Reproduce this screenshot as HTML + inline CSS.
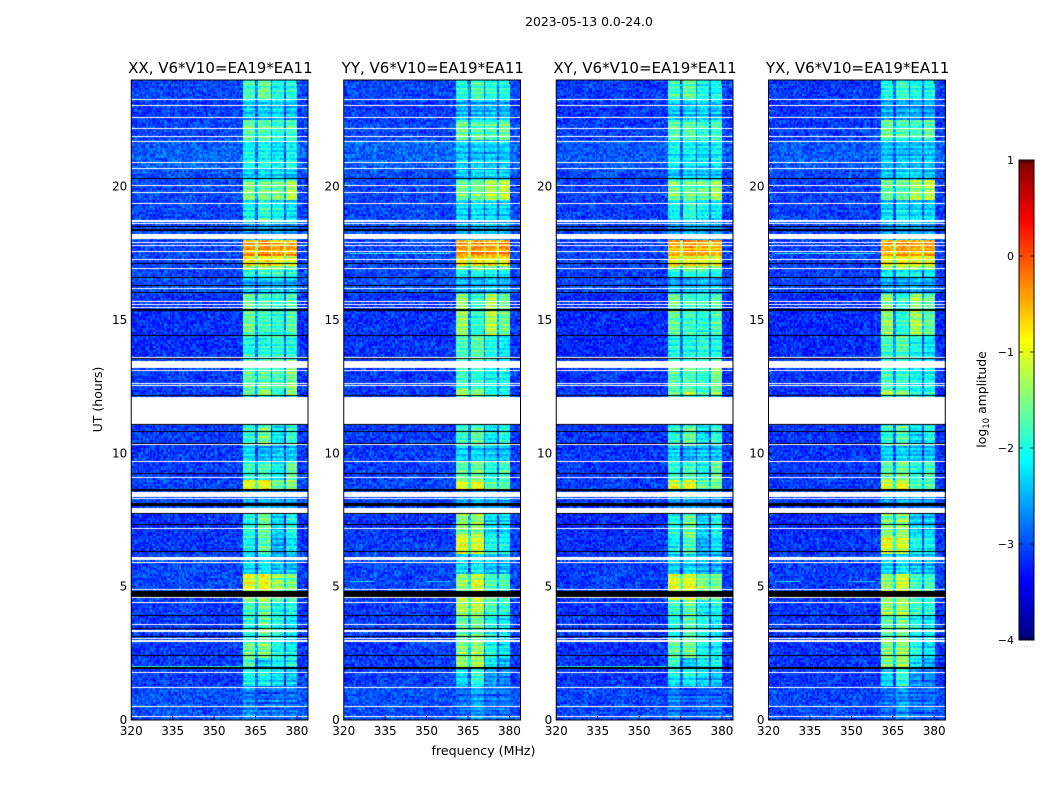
<!DOCTYPE html>
<html lang="en">
<head>
<meta charset="utf-8">
<title>2023-05-13 0.0-24.0</title>
<style>
html,body{margin:0;padding:0;background:#fff;}
#figure{position:relative;width:1050px;height:800px;overflow:hidden;background:#fff;}
canvas{position:absolute;display:block;}
#overlay{position:absolute;left:0;top:0;}
text{font-family:"DejaVu Sans","Liberation Sans",sans-serif;fill:#000;}
</style>
</head>
<body>
<div id="figure">
  <canvas id="heat0" width="177" height="640" style="left:131px;top:80px"></canvas>
  <canvas id="heat1" width="177" height="640" style="left:344px;top:80px"></canvas>
  <canvas id="heat2" width="177" height="640" style="left:556px;top:80px"></canvas>
  <canvas id="heat3" width="177" height="640" style="left:769px;top:80px"></canvas>
  <canvas id="cbar" width="15" height="480" style="left:1019px;top:160px"></canvas>
  <svg id="overlay" width="1050" height="800" viewBox="0 0 1050 800" xmlns="http://www.w3.org/2000/svg">
    <text x="589" y="26" text-anchor="middle" font-size="12.4">2023-05-13 0.0-24.0</text>
    <text x="220.4" y="73" text-anchor="middle" font-size="15">XX, V6*V10=EA19*EA11</text>
    <text x="432.8" y="73" text-anchor="middle" font-size="15">YY, V6*V10=EA19*EA11</text>
    <text x="645" y="73" text-anchor="middle" font-size="15">XY, V6*V10=EA19*EA11</text>
    <text x="857.6" y="73" text-anchor="middle" font-size="15">YX, V6*V10=EA19*EA11</text>
    <text x="483.5" y="755" text-anchor="middle" font-size="12.6">frequency (MHz)</text>
    <text transform="translate(102,399.5) rotate(-90)" text-anchor="middle" font-size="12.5">UT (hours)</text>
    <text transform="translate(986,399.5) rotate(-90)" text-anchor="middle" font-size="12.4">log<tspan font-size="8.6" dy="3">10</tspan><tspan dy="-3"> amplitude</tspan></text>
    <text x="1026.5" y="647" text-anchor="middle" font-size="6" fill="#999" style="fill:#999" letter-spacing="1.2">......</text>
  </svg>
</div>
<script>
// ---- Axis values ----
const xTickValues = [320, 335, 350, 365, 380];
const yTickValues = [0, 5, 10, 15, 20];
const colorbarTickValues = [-4, -3, -2, -1, 0, 1];
const freqMin = 320, freqMax = 384, hourMin = 0, hourMax = 24, logMin = -4, logMax = 1;

// ---- Spectral windows, MHz ----
const bandStarts = [360.5, 366.2, 371.0, 376.0];
const bandStops = [365.2, 370.4, 375.4, 380.2];
const gapDrop = 0.8;

// ---- Time segments: start hour, log10 amplitude per spectral window, background ----
const segmentStarts = [0, 1.3, 1.95, 2.35, 3, 3.9, 4.5, 4.75, 5.5, 6.25, 6.9, 7.7, 8.6, 9, 9.7, 10.3, 11, 12.13, 12.4, 13.5, 14.4, 16, 16.55, 16.85, 17.05, 17.4, 18, 18.7, 19.5, 20.25, 20.6, 21.75, 22.5, 23.25];
const levelsXX = [
 [-2.75,-2.95,-2.85,-2.85],[-2.1,-2.1,-2.3,-2.4],[-1.8,-2.3,-2.1,-2.0],[-1.6,-1.5,-2.0,-2.1],[-2.0,-1.7,-2.0,-2.2],
 [-1.8,-1.6,-2.1,-2.0],[-1.2,-1.1,-1.5,-1.6],[-1.0,-0.95,-1.4,-1.5],[-2.3,-2.2,-2.4,-2.5],[-2.1,-1.7,-2.5,-2.2],
 [-2.0,-1.6,-2.3,-2.0],[-2.6,-2.5,-2.6,-2.6],[-1.0,-0.9,-1.6,-1.5],[-1.9,-1.8,-2.1,-1.6],[-2.3,-2.5,-2.4,-2.4],
 [-1.9,-1.6,-2.2,-1.9],[-2.0,-2.0,-2.0,-2.0],[-1.6,-1.3,-1.9,-1.4],[-1.7,-1.7,-1.8,-1.5],[-2.0,-2.0,-1.9,-2.0],
 [-1.6,-1.8,-1.9,-1.7],[-2.5,-2.5,-2.4,-2.5],[-2.0,-1.9,-1.9,-2.0],[-1.4,-1.3,-1.4,-1.5],[-0.8,-0.8,-0.9,-1.0],
 [-0.45,-0.35,-0.45,-0.5],[-2.6,-2.5,-2.5,-2.6],[-2.1,-1.9,-2.1,-2.2],[-1.5,-1.6,-1.6,-1.3],[-2.4,-2.3,-2.3,-2.4],
 [-2.1,-2.1,-2.2,-2.1],[-1.7,-1.7,-1.9,-1.8],[-2.4,-2.4,-2.3,-2.4],[-1.8,-1.6,-2.0,-2.0]
];
const levelsYY = [
 [-2.85,-2.6,-2.85,-2.8],[-2.3,-1.9,-2.6,-2.7],[-1.4,-1.3,-2.2,-2.5],[-1.5,-1.4,-2.0,-2.2],[-1.7,-1.6,-2.1,-2.2],
 [-1.3,-1.25,-1.8,-1.9],[-1.2,-1.1,-1.6,-1.7],[-1.4,-1.1,-1.8,-1.8],[-2.3,-2.2,-2.4,-2.5],[-1.0,-1.1,-2.0,-2.1],
 [-1.5,-1.4,-2.3,-2.3],[-2.6,-2.5,-2.6,-2.6],[-1.1,-1.0,-1.7,-1.7],[-1.7,-1.6,-2.0,-1.8],[-2.3,-2.3,-2.4,-2.4],
 [-1.9,-1.7,-2.2,-2.0],[-2.0,-2.0,-2.0,-2.0],[-1.3,-1.4,-2.0,-2.0],[-1.8,-1.9,-2.1,-2.1],[-1.8,-1.7,-2.0,-2.2],
 [-1.4,-1.9,-1.3,-1.6],[-2.5,-2.5,-2.4,-2.5],[-2.1,-2.0,-2.0,-2.1],[-1.5,-1.4,-1.5,-1.5],[-0.8,-0.8,-0.9,-0.9],
 [-0.45,-0.35,-0.45,-0.35],[-2.6,-2.5,-2.5,-2.6],[-2.3,-2.2,-2.3,-2.3],[-1.6,-1.6,-1.3,-1.2],[-2.4,-2.3,-2.3,-2.4],
 [-2.4,-2.4,-2.4,-2.4],[-1.6,-1.7,-1.8,-1.6],[-2.5,-2.5,-2.5,-2.5],[-2.0,-1.8,-2.0,-2.0]
];
const backgroundLevels = [-3.0,-3.1,-3.1,-3.1,-3.1,-3.1,-3.1,-3.05,-3.05,-3.1,-3.15,-3.05,-3.05,-3.1,-3.1,-3.1,-3.1,-3.1,-3.1,-3.15,-3.15,-3.0,-3.05,-3.05,-3.05,-3.05,-3.0,-3.05,-3.05,-3.0,-2.92,-3.05,-3.1,-3.05];

// XX and XY, YY and YX read as near-identical in the picture.
const panelLevels = [levelsXX, levelsYY, levelsXX, levelsYY];
const panelGains = [0, 0, -0.04, -0.04];

// ---- Flagged (white) and zero (black) integrations, hours ----
const thinWhiteHours = [23.24,23.03,22.56,22.17,21.87,21.66,20.90,20.65,20.01,19.77,19.34,18.60,17.88,17.79,17.54,17.24,16.90,16.15,15.69,15.56,15.44,13.56,13.09,12.60,12.54,10.31,9.66,9.06,8.28,7.15,5.88,4.86,4.57,4.38,3.55,3.03,1.75,1.19,0.48,0.11];
const whiteBandStarts = [18.68,18.05,13.20,11.06,8.36,7.76,6.00,3.31,2.91];
const whiteBandEnds = [18.76,18.21,13.46,12.13,8.55,7.94,6.12,3.39,2.99];
const thinBlackHours = [20.28,18.5,17.10,16.56,16.29,16.0,14.41,13.53,12.15,11.06,10.81,10.35,9.22,7.74,7.30,6.29,3.89,3.42,3.12,2.41];
const blackBandStarts = [18.32,15.33,8.60,8.03,4.60,1.91];
const blackBandEnds = [18.41,15.40,8.67,8.15,4.84,1.97];

// ---- Narrow RFI lines ----
const rfiHours = [2.02, 2.02, 17.5, 5.2, 5.2];
const rfiFrom = [320, 320, 322, 322, 350];
const rfiTo = [360, 360, 358, 331, 358];
const rfiLevels = [-2.0, -2.1, -2.0, -2.1, -2.3];
const rfiPanels = [0, 2, 1, 1, 1];

// Fine noise cannot be read cell by cell: these two short arrays are a hand-typed
// approximation of its texture, not measured values.
const speckleSample = [0.12,-0.21,0.05,0.31,-0.08,-0.27,0.18,-0.03,0.24,-0.16,0.02,0.35,-0.24,0.09,-0.11,0.21,-0.3,0.06,0.15,-0.19,
 0.28,-0.05,-0.14,0.1,0.38,-0.22,0.0,0.17,-0.28,0.07,-0.09,0.26,-0.17,0.13,-0.25,0.03,0.2,-0.12,0.33,-0.06,
 -0.2,0.11,0.29,-0.26,0.04,-0.13,0.23,-0.01,-0.18,0.16,0.4,-0.29,0.08,-0.07,0.19,-0.23,0.14,0.27,-0.15,-0.02,
 0.22,-0.31,0.01,0.12,-0.1,0.3,-0.19,0.06,-0.24,0.18,0.34,-0.04,-0.16,0.1,-0.27,0.25,-0.08,0.03,0.17,-0.21,
 0.44,-0.12,-0.26,0.09,0.2,-0.03,-0.18,0.32,-0.11,0.05,-0.22,0.15,0.24,-0.3,0.0,0.11,-0.14,0.28,-0.06,-0.2,0.07];
const rowStreakSample = [0.05,-0.12,0.18,-0.04,0.22,-0.2,0.02,0.1,-0.16,0.25,-0.08,-0.02,0.14,-0.24,0.07,0.19,-0.1,0.0,0.23,-0.18,
 0.04,-0.06,0.16,-0.22,0.11,0.03,-0.14,0.2,-0.01,-0.26,0.13,0.08,-0.09,0.24,-0.17,0.06,-0.03,0.17,-0.21,0.12,-0.07];

// ---- Geometry ----
const axesLefts = [131.25, 343.75, 556.25, 768.5];
const axesWidth = 176.75, axesTop = 80, axesBottom = 720;
const canvasPixelWidth = 177, canvasPixelHeight = 640;
const channelMHz = 0.5, rowHours = 0.075;
const SVGNS = 'http://www.w3.org/2000/svg';
const overlay = document.getElementById('overlay');

function xPixel(freq) { return (freq - freqMin) / (freqMax - freqMin) * canvasPixelWidth; }
function yPixel(hour) { return (hourMax - hour) / (hourMax - hourMin) * canvasPixelHeight; }
function axisX(left, freq) { return left + (freq - freqMin) / (freqMax - freqMin) * axesWidth; }
function axisY(hour) { return axesBottom - (hour - hourMin) / (hourMax - hourMin) * (axesBottom - axesTop); }
function clamp01(v) { return Math.max(0, Math.min(1, v)); }
function jet(logValue) {
  const t = clamp01((logValue - logMin) / (logMax - logMin));
  const r = clamp01(1.5 - Math.abs(4 * t - 3));
  const g = clamp01(1.5 - Math.abs(4 * t - 2));
  const b = clamp01(1.5 - Math.abs(4 * t - 1));
  return 'rgb(' + Math.round(r * 255) + ',' + Math.round(g * 255) + ',' + Math.round(b * 255) + ')';
}
function segmentAt(hour) {
  let s = 0;
  for (let i = 0; i < segmentStarts.length; i++) { if (hour >= segmentStarts[i]) s = i; }
  return s;
}
function cellLevel(levels, freq, seg) {
  const bg = backgroundLevels[seg];
  if (freq < bandStarts[0] || freq >= bandStops[bandStops.length - 1]) return { v: bg, inBand: false };
  for (let b = 0; b < bandStarts.length; b++) {
    if (freq >= bandStarts[b] && freq < bandStops[b]) return { v: levels[seg][b], inBand: true };
  }
  for (let b = 0; b < bandStarts.length - 1; b++) {
    if (freq >= bandStops[b] && freq < bandStarts[b + 1]) {
      return { v: Math.max(bg, Math.min(levels[seg][b], levels[seg][b + 1]) - gapDrop), inBand: false };
    }
  }
  return { v: bg, inBand: false };
}
function hLine(ctx, hour, color) {
  ctx.fillStyle = color;
  ctx.fillRect(0, Math.round(yPixel(hour)) - 1, canvasPixelWidth, 1);
}
function hBand(ctx, start, end, color) {
  const y0 = Math.round(yPixel(end)), y1 = Math.round(yPixel(start));
  ctx.fillStyle = color;
  ctx.fillRect(0, y0, canvasPixelWidth, Math.max(1, y1 - y0));
}

function drawHeatmap(panel) {
  const ctx = document.getElementById('heat' + panel).getContext('2d');
  const levels = panelLevels[panel];
  const gain = panelGains[panel];
  const nCols = Math.round((freqMax - freqMin) / channelMHz);
  const nRows = Math.round((hourMax - hourMin) / rowHours);
  const offset = panel * 17;
  const n = speckleSample.length;
  for (let row = 0; row < nRows; row++) {
    const hour = hourMin + row * rowHours;
    const seg = segmentAt(hour + rowHours / 2);
    const streak = rowStreakSample[(row + offset) % rowStreakSample.length];
    const yTop = Math.round(yPixel(hour + rowHours));
    const yBot = Math.round(yPixel(hour));
    for (let col = 0; col < nCols; col++) {
      const freq = freqMin + col * channelMHz;
      const cell = cellLevel(levels, freq + channelMHz / 2, seg);
      const sp = speckleSample[(col * col * col * 5 + row * row * 3 + col * row * 11 + offset) % n];
      const val = cell.v + gain + (cell.inBand ? sp * 0.7 + streak * 1.1 : sp + streak * 0.12);
      const x0 = Math.round(xPixel(freq));
      const x1 = Math.round(xPixel(freq + channelMHz));
      ctx.fillStyle = jet(val);
      ctx.fillRect(x0, yTop, Math.max(1, x1 - x0), Math.max(1, yBot - yTop));
    }
  }
  for (let i = 0; i < rfiHours.length; i++) {
    if (rfiPanels[i] !== panel && !(panel === 3 && rfiPanels[i] === 1)) continue;
    for (let f = rfiFrom[i]; f < rfiTo[i]; f += channelMHz) {
      const sp = speckleSample[Math.round(f * 2) % n];
      ctx.fillStyle = jet(rfiLevels[i] + sp * 1.6);
      ctx.fillRect(Math.round(xPixel(f)), Math.round(yPixel(rfiHours[i])), 2, 1);
    }
  }
  for (let i = 0; i < whiteBandStarts.length; i++) hBand(ctx, whiteBandStarts[i], whiteBandEnds[i], '#fff');
  for (let i = 0; i < thinWhiteHours.length; i++) hLine(ctx, thinWhiteHours[i], '#fff');
  for (let i = 0; i < blackBandStarts.length; i++) hBand(ctx, blackBandStarts[i], blackBandEnds[i], '#000');
  for (let i = 0; i < thinBlackHours.length; i++) hLine(ctx, thinBlackHours[i], '#000');
}

function svgEl(tag, attrs, text) {
  const el = document.createElementNS(SVGNS, tag);
  for (const k in attrs) el.setAttribute(k, attrs[k]);
  if (text !== undefined) el.textContent = text;
  overlay.appendChild(el);
  return el;
}

function drawAxes(panel) {
  const left = axesLefts[panel];
  const right = left + axesWidth;
  const frame = svgEl('rect', { x: left, y: axesTop, width: axesWidth, height: axesBottom - axesTop, fill: 'none', stroke: '#000', 'stroke-width': 1 });
  
  
  xTickValues.forEach(function (value) {
    const x = axisX(left, value);
    const bottomTick = svgEl('line', { x1: x, x2: x, y1: axesBottom, y2: axesBottom - 4, stroke: '#000', 'stroke-width': 0.7 });
    
    
    const topTick = svgEl('line', { x1: x, x2: x, y1: axesTop, y2: axesTop + 4, stroke: '#000', 'stroke-width': 0.7 });
    
    
    const label = svgEl('text', { x: x, y: 735, 'text-anchor': 'middle', 'font-size': 12 }, String(value));
    
    
  });
  yTickValues.forEach(function (value) {
    const y = axisY(value);
    const leftTick = svgEl('line', { x1: left, x2: left + 4, y1: y, y2: y, stroke: '#000', 'stroke-width': 0.7 });
    
    
    const rightTick = svgEl('line', { x1: right, x2: right - 4, y1: y, y2: y, stroke: '#000', 'stroke-width': 0.7 });
    
    
    const label = svgEl('text', { x: left - 4, y: y + 4, 'text-anchor': 'end', 'font-size': 12 }, String(value));
    
    
  });
}

function drawColorbar() {
  const cbLeft = 1019, cbRight = 1034, cbTop = 160, cbBottom = 640;
  const ctx = document.getElementById('cbar').getContext('2d');
  for (let py = 0; py < cbBottom - cbTop; py++) {
    const v = logMax - (py + 0.5) / (cbBottom - cbTop) * (logMax - logMin);
    ctx.fillStyle = jet(v);
    ctx.fillRect(0, py, cbRight - cbLeft, 1);
  }
  function cbY(v) { return cbBottom - (v - logMin) / (logMax - logMin) * (cbBottom - cbTop); }
  const frame = svgEl('rect', { x: cbLeft, y: cbTop, width: cbRight - cbLeft, height: cbBottom - cbTop, fill: 'none', stroke: '#000', 'stroke-width': 1 });
  
  
  colorbarTickValues.forEach(function (value) {
    const y = cbY(value);
    const leftTick = svgEl('line', { x1: cbLeft, x2: cbLeft + 4, y1: y, y2: y, stroke: '#000', 'stroke-width': 0.7 });
    
    
    const rightTick = svgEl('line', { x1: cbRight, x2: cbRight - 4, y1: y, y2: y, stroke: '#000', 'stroke-width': 0.7 });
    
    
    const text = value < 0 ? '\u2212' + Math.abs(value) : String(value);
    const label = svgEl('text', { x: 1014, y: y + 4, 'text-anchor': 'end', 'font-size': 11 }, text);
    
    
  });
  for (let k = 1; k <= 4; k++) {
    const x = cbLeft + k * (cbRight - cbLeft) / 5;
    const topMinor = svgEl('line', { x1: x, x2: x, y1: cbTop, y2: cbTop + 4, stroke: '#000', 'stroke-width': 0.7 });
    
    
    const bottomMinor = svgEl('line', { x1: x, x2: x, y1: cbBottom, y2: cbBottom - 4, stroke: '#000', 'stroke-width': 0.7 });
    
    
  }
}

for (let p = 0; p < 4; p++) { drawHeatmap(p); drawAxes(p); }
drawColorbar();
</script>
</body>
</html>
